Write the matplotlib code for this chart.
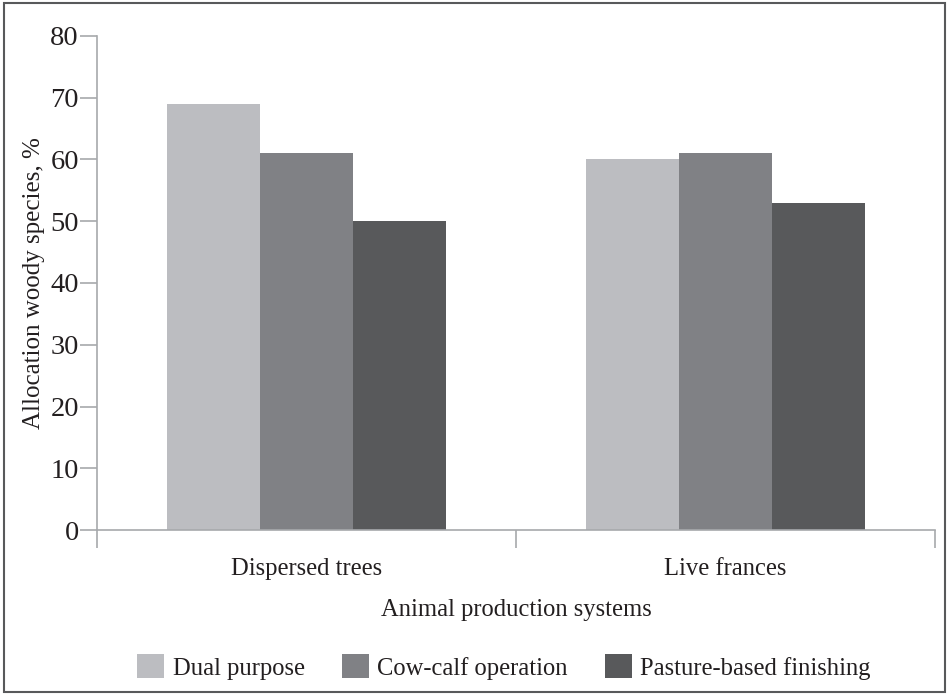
import matplotlib
matplotlib.use("Agg")
import matplotlib.pyplot as plt
import numpy as np
from matplotlib.patches import Rectangle

categories = ["Dispersed trees", "Live frances"]
series_names = ["Dual purpose", "Cow-calf operation", "Pasture-based finishing"]
dual_purpose = [69, 60]
cow_calf = [61, 61]
pasture_finishing = [50, 53]
y_ticks = [0, 10, 20, 30, 40, 50, 60, 70, 80]
colors = ["#bcbdc1", "#808185", "#58595b"]

plt.rcParams['font.family'] = ['Liberation Serif', 'DejaVu Serif']

fig = plt.figure(figsize=(9.47, 6.94), dpi=100)
ax = fig.add_axes([97/947, 1-530/694, (935-97)/947, (530-36)/694])

x = np.arange(len(categories))
w = 0.222
for i, (vals, name) in enumerate(zip([dual_purpose, cow_calf, pasture_finishing], series_names)):
    ax.bar(x + (i-1)*w, vals, width=w, color=colors[i], label=name, linewidth=0)

ax.set_xlim(-0.5, 1.5)
ax.set_ylim(0, 80)
ax.set_yticks(y_ticks)
ax.set_yticklabels([str(v) for v in y_ticks], fontsize=20.5, color="#231f20")
ax.set_xticks(x)
ax.set_xticklabels(categories, fontsize=17.7, color="#231f20")
ax.set_xticks([-0.5, 0.5, 1.5], minor=True)
ax.tick_params(axis='x', which='major', length=0, pad=20)
ax.tick_params(axis='x', which='minor', length=13, width=1.2, color="#a7a9ac")
ax.tick_params(axis='y', length=12, width=1.2, color="#a7a9ac", pad=1)
for s in ['top', 'right']:
    ax.spines[s].set_visible(False)
for s in ['left', 'bottom']:
    ax.spines[s].set_color("#a7a9ac")
    ax.spines[s].set_linewidth(1.2)

ax.set_xlabel("Animal production systems", fontsize=17.7, color="#231f20", labelpad=14)
ax.set_ylabel("Allocation woody species, %", fontsize=18, color="#231f20", labelpad=4)

fig.legend(loc='center', bbox_to_anchor=(504/947, 1-667/694), ncol=3, frameon=False,
           fontsize=17.7, handlelength=1.1, handleheight=1.1, handletextpad=0.35,
           columnspacing=1.5, labelcolor="#231f20")

fig.patches.append(Rectangle((4/947, 2/694), 941/947, 689/694, transform=fig.transFigure,
                             fill=False, edgecolor="#58595b", linewidth=1.5))

fig.savefig("out.png", dpi=100)
